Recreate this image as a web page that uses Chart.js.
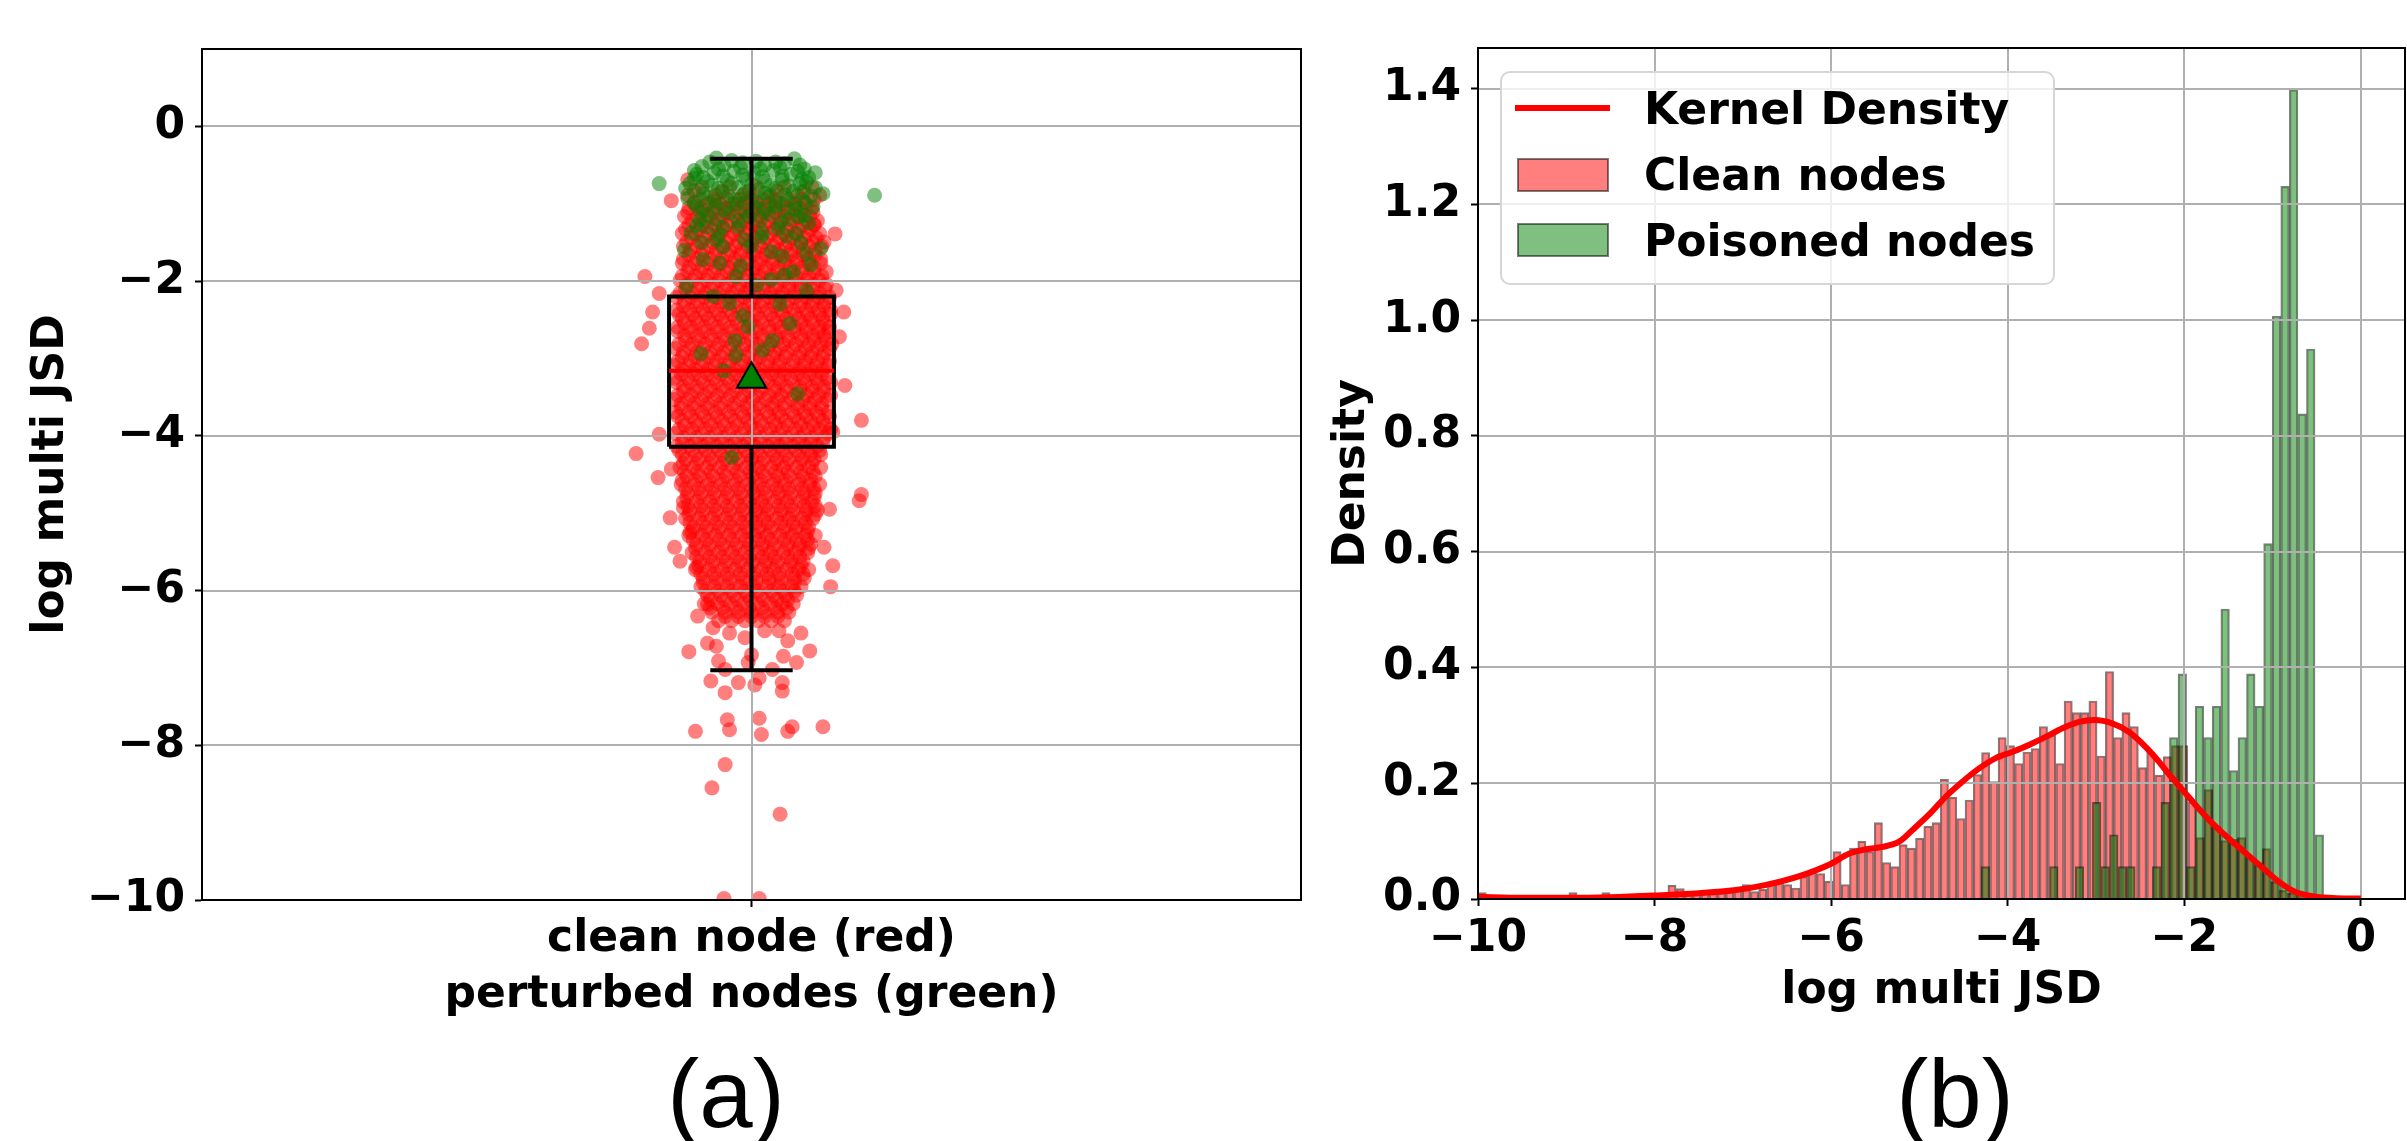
<!DOCTYPE html>
<html>
<head>
<meta charset="utf-8">
<script src="https://cdn.jsdelivr.net/npm/chart.js@4.4.1/dist/chart.umd.min.js"></script>
<style>
  html, body { margin: 0; padding: 0; background: #fff; overflow: hidden; }
  #wrap { position: relative; width: 2407px; height: 1141px; }
  canvas { position: absolute; top: 0; }
  #chartA { left: 0; }
  #chartB { left: 1320px; }
  .panel { position: absolute; top: 1046px; width: 240px; text-align: center;
           font: 96px 'Liberation Sans', Arial, sans-serif; line-height: 96px; color: #000; }
</style>
</head>
<body>
<div id="wrap">
  <canvas id="chartA" width="1320" height="1141"></canvas>
  <canvas id="chartB" width="1087" height="1141"></canvas>
  <div class="panel" style="left:606px">(a)</div>
  <div class="panel" style="left:1835px">(b)</div>
</div>
<script>
// ---------- panel (a) data ----------
const categoryTicks = [0];
const categoryLabel = ['clean node (red)', 'perturbed nodes (green)'];
const yTicksA = [-10, -8, -6, -4, -2, 0];

// box plot stats: lower whisker, q1, median, q3, upper whisker
const boxStats = [-7.03, -4.14, -3.16, -2.2, -0.42];
const meanValue = -3.27;

// dense part of clean nodes: [y, x jitter in thousandths]
const cleanRows = [
  [-0.78, [-45, -20, 5, 30, 55]],
  [-0.835, [-52, -27, -2, 23, 48]],
  [-0.89, [-58, -33, -8, 17, 42, 62]],
  [-0.945, [-46, -34, -22, -11, 0, 11, 22, 34, 46, 57]],
  [-1.00, [-52, -40, -29, -17, -6, 5, 16, 27, 39, 50]],
  [-1.055, [-57, -46, -34, -23, -11, 0, 11, 22, 33, 44, 55]],
  [-1.11, [-58, -46, -35, -23, -12, 0, 11, 22, 33, 45, 56]],
  [-1.165, [-61, -49, -38, -26, -15, -3, 8, 19, 30, 42, 53]],
  [-1.22, [-54, -42, -30, -19, -7, 4, 15, 27, 38, 49, 60]],
  [-1.275, [-57, -45, -33, -22, -10, 1, 12, 24, 35, 46, 57]],
  [-1.33, [-60, -48, -36, -25, -13, -2, 9, 21, 32, 43, 54]],
  [-1.385, [-63, -51, -39, -28, -16, -5, 6, 18, 29, 40, 51, 62]],
  [-1.44, [-55, -43, -31, -20, -8, 3, 14, 26, 37, 48, 59]],
  [-1.495, [-59, -47, -35, -23, -12, 0, 11, 23, 34, 45, 56, 66]],
  [-1.55, [-62, -50, -38, -26, -15, -3, 8, 20, 31, 42, 53, 64]],
  [-1.605, [-56, -44, -32, -20, -9, 2, 14, 25, 36, 47, 58]],
  [-1.66, [-57, -45, -33, -21, -10, 2, 13, 25, 36, 47, 58]],
  [-1.715, [-62, -50, -38, -27, -15, -4, 8, 19, 30, 41, 52, 63]],
  [-1.77, [-63, -51, -39, -27, -16, -4, 7, 19, 30, 41, 52, 63]],
  [-1.825, [-57, -45, -33, -21, -10, 2, 13, 24, 35, 46, 57]],
  [-1.88, [-58, -46, -34, -22, -11, 1, 12, 24, 35, 46, 57, 68]],
  [-1.935, [-63, -51, -40, -28, -16, -4, 7, 18, 29, 40, 52, 64]],
  [-1.99, [-65, -53, -41, -29, -17, -6, 6, 17, 29, 40, 51, 62]],
  [-2.045, [-59, -47, -35, -23, -11, 0, 11, 23, 34, 45, 56, 68]],
  [-2.10, [-60, -48, -36, -24, -12, -1, 11, 22, 34, 45, 56, 67]],
  [-2.155, [-65, -54, -42, -30, -18, -6, 5, 17, 28, 39, 51, 62]],
  [-2.21, [-68, -55, -43, -31, -19, -7, 4, 16, 27, 39, 50, 61, 71]],
  [-2.265, [-61, -49, -37, -25, -13, -1, 10, 22, 33, 45, 56, 67]],
  [-2.32, [-62, -50, -38, -26, -14, -2, 9, 21, 32, 44, 55, 66]],
  [-2.375, [-68, -56, -44, -32, -20, -8, 3, 15, 27, 38, 50, 61, 72]],
  [-2.43, [-66, -54, -42, -30, -18, -6, 5, 17, 28, 40, 51, 62, 72]],
  [-2.485, [-63, -51, -39, -27, -15, -3, 8, 20, 32, 43, 54, 65]],
  [-2.54, [-61, -49, -37, -25, -13, -1, 10, 22, 33, 45, 56, 67]],
  [-2.595, [-67, -55, -43, -31, -19, -7, 4, 16, 27, 39, 50, 62, 71]],
  [-2.65, [-67, -55, -43, -31, -19, -7, 4, 16, 27, 39, 50, 61, 70]],
  [-2.705, [-61, -49, -37, -25, -13, -1, 10, 22, 33, 45, 56, 66]],
  [-2.76, [-60, -48, -36, -24, -12, 0, 11, 23, 34, 46, 57, 68]],
  [-2.815, [-66, -54, -42, -30, -18, -6, 5, 17, 29, 40, 52, 63, 73]],
  [-2.87, [-69, -56, -44, -32, -20, -8, 3, 15, 26, 38, 49, 60, 71]],
  [-2.925, [-62, -50, -38, -26, -14, -2, 9, 21, 32, 44, 55, 66]],
  [-2.98, [-63, -51, -39, -27, -15, -3, 8, 20, 31, 43, 54, 65]],
  [-3.035, [-67, -56, -44, -32, -20, -8, 3, 15, 26, 38, 49, 60, 71]],
  [-3.09, [-70, -57, -45, -33, -21, -9, 2, 14, 25, 37, 48, 59, 70]],
  [-3.145, [-63, -51, -39, -27, -15, -3, 8, 20, 31, 43, 54, 65]],
  [-3.20, [-64, -52, -40, -28, -16, -4, 7, 19, 30, 42, 53, 64]],
  [-3.255, [-70, -58, -46, -34, -22, -10, 1, 13, 25, 36, 47, 59, 69]],
  [-3.31, [-68, -56, -44, -32, -20, -8, 3, 15, 26, 38, 49, 60, 72]],
  [-3.365, [-62, -50, -38, -26, -14, -2, 9, 21, 32, 44, 55, 66]],
  [-3.42, [-62, -50, -38, -26, -14, -2, 9, 21, 32, 44, 55, 66]],
  [-3.475, [-67, -55, -43, -31, -19, -7, 4, 16, 27, 39, 50, 61, 72]],
  [-3.53, [-70, -58, -46, -34, -22, -10, 1, 13, 24, 36, 47, 58, 69]],
  [-3.585, [-64, -52, -40, -28, -16, -4, 7, 19, 30, 42, 53, 64]],
  [-3.64, [-64, -52, -40, -28, -16, -4, 7, 19, 30, 42, 53, 64]],
  [-3.695, [-69, -57, -45, -33, -21, -9, 2, 14, 25, 37, 48, 59, 70]],
  [-3.75, [-67, -55, -43, -31, -19, -7, 4, 16, 27, 39, 50, 61, 71]],
  [-3.805, [-63, -51, -39, -27, -15, -3, 8, 20, 31, 43, 54, 65]],
  [-3.86, [-61, -49, -37, -25, -13, -1, 10, 22, 33, 45, 56, 67]],
  [-3.915, [-66, -54, -42, -30, -18, -6, 5, 17, 28, 40, 51, 62, 72]],
  [-3.97, [-69, -57, -45, -33, -21, -9, 2, 14, 25, 37, 48, 59, 70]],
  [-4.025, [-62, -50, -38, -26, -14, -2, 9, 21, 32, 44, 55, 66]],
  [-4.08, [-63, -51, -39, -27, -15, -3, 8, 20, 31, 43, 54, 65]],
  [-4.135, [-68, -56, -44, -32, -20, -8, 3, 15, 26, 38, 49, 60]],
  [-4.19, [-66, -54, -42, -30, -18, -6, 5, 17, 28, 40, 51, 62]],
  [-4.245, [-63, -51, -39, -27, -15, -3, 8, 20, 31, 43, 54, 63]],
  [-4.30, [-60, -48, -36, -24, -12, 0, 11, 23, 34, 46, 57]],
  [-4.355, [-62, -50, -38, -26, -14, -2, 9, 21, 32, 44, 55]],
  [-4.41, [-65, -53, -41, -29, -17, -5, 6, 18, 29, 41, 52, 63]],
  [-4.465, [-61, -49, -37, -25, -13, -1, 10, 22, 33, 45, 56]],
  [-4.52, [-59, -47, -35, -23, -11, 1, 12, 24, 35, 47, 58]],
  [-4.575, [-63, -51, -39, -27, -15, -3, 8, 20, 31, 43, 54]],
  [-4.63, [-64, -52, -40, -28, -16, -4, 7, 19, 30, 42, 53, 62]],
  [-4.685, [-60, -48, -36, -24, -12, 0, 11, 23, 34, 46, 57]],
  [-4.74, [-58, -46, -34, -22, -10, 2, 13, 25, 36, 48, 58]],
  [-4.795, [-59, -47, -35, -23, -11, 1, 12, 24, 35, 47, 57]],
  [-4.85, [-62, -50, -38, -26, -14, -2, 9, 21, 32, 44, 55]],
  [-4.905, [-58, -46, -34, -22, -10, 2, 13, 25, 36, 48, 58]],
  [-4.96, [-56, -44, -32, -20, -8, 4, 15, 27, 38, 50, 60]],
  [-5.015, [-57, -45, -33, -21, -9, 3, 14, 26, 37, 49, 58]],
  [-5.07, [-60, -48, -36, -24, -12, 0, 11, 23, 34, 46, 56]],
  [-5.125, [-56, -44, -32, -20, -8, 4, 15, 27, 38, 49]],
  [-5.18, [-53, -41, -29, -17, -5, 7, 18, 30, 41, 52]],
  [-5.235, [-54, -42, -30, -18, -6, 6, 17, 29, 40, 51]],
  [-5.29, [-57, -45, -33, -21, -9, 3, 14, 26, 37, 49, 58]],
  [-5.345, [-53, -41, -29, -17, -5, 7, 18, 30, 41, 51]],
  [-5.40, [-50, -38, -26, -14, -2, 10, 21, 33, 44, 54]],
  [-5.455, [-51, -39, -27, -15, -3, 9, 20, 32, 43, 52]],
  [-5.51, [-54, -42, -30, -18, -6, 6, 17, 29, 40, 51]],
  [-5.565, [-50, -38, -26, -14, -2, 10, 21, 33, 44]],
  [-5.62, [-47, -35, -23, -11, 1, 13, 24, 36, 47]],
  [-5.675, [-48, -36, -24, -12, 0, 12, 23, 35, 45]],
  [-5.73, [-51, -39, -27, -15, -3, 9, 20, 32, 43, 52]],
  [-5.785, [-46, -34, -22, -10, 2, 14, 25, 37, 47]],
  [-5.84, [-44, -32, -20, -8, 4, 16, 27, 39, 48]],
  [-5.895, [-44, -32, -20, -8, 4, 16, 27, 39]],
  [-5.95, [-46, -34, -22, -10, 2, 14, 25, 37, 45]],
  [-6.005, [-42, -30, -18, -6, 6, 18, 29, 39]],
  [-6.06, [-40, -28, -16, -4, 8, 20, 31, 41]],
  [-6.115, [-37, -25, -13, -1, 11, 23, 33]],
  [-6.17, [-43, -31, -19, -7, 5, 17, 28, 38]],
  [-6.225, [-38, -26, -14, -2, 10, 22, 32]],
  [-6.28, [-36, -24, -12, 0, 12, 24, 34]],
  [-6.335, [-24, -12, 0, 12, 24]],
  [-6.39, [-30, -18, -6, 6, 18, 30]]
];

// scattered clean nodes outside the dense part: [x, y]
const cleanOutliers = [
  [-0.073, -0.96], [-0.058, -0.69], [0.057, -1.27], [0.076, -1.39], [-0.097, -1.94],
  [-0.084, -2.16], [-0.09, -2.4], [-0.093, -2.61], [-0.1, -2.81], [0.077, -2.12],
  [0.084, -2.4], [0.08, -2.72], [0.085, -3.35], [0.1, -3.8], [-0.105, -4.23],
  [-0.085, -4.54], [-0.084, -3.98], [-0.073, -4.43], [0.1, -4.76], [0.074, -3.95],
  [-0.074, -5.06], [-0.062, -4.93], [-0.056, -5.25], [-0.07, -5.44], [-0.065, -5.62],
  [-0.05, -5.7], [0.066, -5.44], [0.074, -5.68], [0.072, -5.95], [0.071, -4.95],
  [0.098, -4.84], [-0.04, -6.18], [-0.049, -6.33], [-0.035, -6.48], [-0.04, -6.68],
  [-0.057, -6.79], [-0.032, -6.72], [-0.02, -6.55], [-0.006, -6.61], [0.012, -6.52],
  [0.025, -6.52], [0.033, -6.65], [0.045, -6.55], [0.053, -6.78], [0.041, -6.93],
  [0.029, -6.85], [0.019, -7.02], [0.0, -6.83], [-0.003, -6.93], [-0.024, -7.02],
  [-0.03, -6.91], [-0.037, -7.17], [-0.012, -7.19], [0.003, -7.22], [0.007, -7.13],
  [0.028, -7.19], [0.028, -7.3], [-0.024, -7.32], [-0.022, -7.67], [-0.02, -7.8],
  [-0.051, -7.82], [0.007, -7.65], [0.009, -7.86], [0.033, -7.82], [0.037, -7.76],
  [0.065, -7.76], [-0.024, -8.25], [-0.036, -8.55], [0.026, -8.89], [-0.025, -9.98],
  [0.007, -9.98]
];

// perturbed (poisoned) nodes: [x, y]
const poisonedPoints = [
  [-0.032, -0.41], [0.039, -0.42], [-0.084, -0.74], [0.112, -0.89], [0.065, -0.87],
  [-0.052, -0.67], [-0.061, -1.6], [0.063, -1.58], [0.054, -1.79], [0.028, -1.68],
  [0.018, -1.98], [0.03, -1.92], [-0.055, -1.38], [-0.047, -1.21], [-0.029, -1.77],
  [-0.014, -1.94], [-0.003, -2.59], [-0.015, -2.77], [0.019, -2.77], [0.01, -2.89],
  [-0.014, -2.96], [-0.046, -2.94], [-0.025, -3.16], [0.042, -3.46], [-0.018, -4.28],
  [0.044, -1.17], [0.041, -1.38], [0.045, -1.51], [0.009, -1.43], [-0.006, -1.47],
  [-0.032, -1.47], [-0.041, -1.3], [-0.026, -1.56], [-0.059, -2.07], [-0.02, -2.29],
  [0.05, -2.12],
  [-0.045, -0.52], [-0.025, -0.5], [-0.008, -0.47], [0.012, -0.5], [0.03, -0.48], [0.048, -0.55],
  [-0.05, -0.62], [-0.034, -0.6], [-0.016, -0.58], [0.002, -0.6], [0.02, -0.57], [0.036, -0.62],
  [0.052, -0.66], [-0.056, -0.74], [-0.04, -0.71], [-0.022, -0.7], [-0.005, -0.68], [0.012, -0.71],
  [0.028, -0.69], [0.044, -0.74], [0.058, -0.79], [-0.048, -0.82], [-0.03, -0.8], [-0.012, -0.79],
  [0.006, -0.82], [0.022, -0.8], [0.038, -0.84], [0.054, -0.9], [-0.058, -0.93], [-0.04, -0.92],
  [-0.021, -0.9], [-0.003, -0.93], [0.015, -0.91], [0.032, -0.95], [0.048, -0.98], [-0.05, -1.04],
  [-0.032, -1.02], [-0.013, -1.0], [0.004, -1.05], [0.022, -1.03], [0.04, -1.07], [-0.04, -1.14],
  [-0.02, -1.12], [-0.002, -1.16], [0.016, -1.13], [0.034, -1.2], [0.052, -1.25], [-0.05, -1.28],
  [-0.012, -1.3], [0.024, -1.32], [-0.03, -1.4], [0.0, -1.55], [0.018, -1.62], [-0.044, -1.72],
  [-0.01, -1.8], [0.038, -1.88], [0.005, -2.05], [-0.035, -2.2], [0.026, -2.3], [-0.008, -2.45],
  [0.035, -2.55],
  [-0.038, -0.46], [-0.018, -0.44], [0.004, -0.45], [0.022, -0.46], [0.044, -0.5],
  [-0.052, -0.57], [-0.03, -0.55], [-0.01, -0.53], [0.008, -0.55], [0.026, -0.53], [0.042, -0.58],
  [0.058, -0.6], [-0.044, -0.66], [-0.026, -0.64], [-0.008, -0.63], [0.01, -0.65], [0.028, -0.64],
  [0.046, -0.68], [-0.06, -0.8], [-0.036, -0.76], [-0.018, -0.74], [0.0, -0.75], [0.018, -0.76],
  [0.034, -0.77], [0.05, -0.72], [-0.044, -0.87], [-0.026, -0.85], [-0.006, -0.86], [0.012, -0.86],
  [0.03, -0.88], [0.046, -0.85], [-0.052, -0.98], [-0.034, -0.97], [-0.015, -0.95], [0.004, -0.97],
  [0.022, -0.98], [0.04, -1.0], [0.056, -1.04], [-0.044, -1.09], [-0.024, -1.07], [-0.006, -1.1],
  [0.012, -1.08], [0.03, -1.1], [0.048, -1.15], [-0.032, -1.2], [-0.012, -1.22], [0.008, -1.22],
  [0.026, -1.25], [-0.026, -1.3], [0.01, -1.38], [0.032, -1.42], [-0.045, -1.5], [0.05, -1.65]
];

// ---------- panel (b) data ----------
const xTicksB = [-10, -8, -6, -4, -2, 0];
const yTicksB = [0, 0.2, 0.4, 0.6, 0.8, 1.0, 1.2, 1.4];

// clean nodes histogram: 100 bins from -10 with width 0.0935
const cleanBinStart = -10, cleanBinWidth = 0.0935;
const cleanDensity = [
  0.011, 0, 0, 0, 0, 0, 0, 0, 0, 0,
  0, 0.011, 0, 0, 0, 0.011, 0, 0, 0, 0,
  0, 0, 0, 0.024, 0.018, 0.011, 0.011, 0.011, 0.011, 0.011,
  0.018, 0.018, 0.025, 0.013, 0.017, 0.028, 0.032, 0.025, 0.019, 0.039,
  0.05, 0.044, 0.031, 0.082, 0.025, 0.088, 0.1, 0.082, 0.132, 0.063,
  0.056, 0.094, 0.088, 0.105, 0.126, 0.132, 0.207, 0.176, 0.139, 0.171,
  0.215, 0.253, 0.203, 0.279, 0.265, 0.234, 0.254, 0.26, 0.298, 0.283,
  0.234, 0.342, 0.322, 0.322, 0.342, 0.247, 0.393, 0.279, 0.322, 0.298,
  0.227, 0.254, 0.214, 0.246, 0.265, 0.265, 0.168, 0.106, 0.189, 0.125,
  0.101, 0.103, 0.106, 0.072, 0.063, 0.087, 0.03, 0.015, 0.01, 0.01
];

// poisoned nodes histogram: 40 bins from -4.302 with width 0.097
const poisonBinStart = -4.302, poisonBinWidth = 0.097;
const poisonDensity = [
  0.056, 0, 0, 0, 0, 0, 0, 0, 0.056, 0,
  0, 0.056, 0, 0.167, 0.056, 0.111, 0.056, 0.056, 0, 0,
  0.056, 0.167, 0.279, 0.389, 0.056, 0.333, 0.279, 0.333, 0.501, 0.222,
  0.279, 0.389, 0.333, 0.614, 1.007, 1.231, 1.398, 0.838, 0.95, 0.111
];

// kernel density curve of clean nodes
const kdeX = [-10, -9.5, -9, -8.5, -8, -7.5, -7.1, -6.75, -6.35, -6.0,
  -5.8, -5.6, -5.42, -5.23, -5.08, -4.89, -4.7, -4.51, -4.32, -4.14,
  -3.95, -3.76, -3.57, -3.38, -3.19, -3.02, -2.81, -2.63, -2.5, -2.33,
  -2.17, -2.0, -1.87, -1.69, -1.5, -1.31, -1.12, -0.93, -0.74, -0.55,
  -0.37, -0.18, 0];
const kdeY = [0.004, 0.002, 0.002, 0.003, 0.006, 0.01, 0.015, 0.024, 0.04, 0.061,
  0.078, 0.086, 0.09, 0.099, 0.119, 0.146, 0.177, 0.203, 0.226, 0.243,
  0.254, 0.266, 0.28, 0.295, 0.306, 0.309, 0.303, 0.289, 0.272, 0.245,
  0.215, 0.185, 0.162, 0.132, 0.105, 0.08, 0.055, 0.03, 0.012, 0.005,
  0.002, 0.001, 0.001];

// ---------- styling ----------
const GRID_COLOR = '#b0b0b0';
const RED_A = 'rgba(255,0,0,0.5)';
const GREEN_A = 'rgba(0,128,0,0.5)';
const EDGE = 'rgba(0,0,0,0.5)';
const BOX_HALF = 0.075, CAP_HALF = 0.0375;

Chart.defaults.font.family = "'DejaVu Sans', sans-serif";
Chart.defaults.font.size = 44;
Chart.defaults.font.weight = 'bold';
Chart.defaults.color = '#000';
Chart.defaults.plugins.legend.display = false;
Chart.defaults.plugins.tooltip.enabled = false;

const minus = v => (v < 0 ? '\u2212' : '') + Math.abs(v);

// gridlines drawn above the scatter / bars but below lines (like matplotlib)
const gridOnTop = {
  id: 'gridOnTop',
  afterDatasetDraw(chart, args, opts) {
    if (args.index !== opts.after) return;
    const {ctx, chartArea: a} = chart;
    const xs = chart.scales.x, ys = chart.scales.y;
    ctx.save();
    ctx.strokeStyle = GRID_COLOR;
    ctx.lineWidth = 2;
    ctx.beginPath();
    xs.ticks.forEach(t => {
      const p = Math.round(xs.getPixelForValue(t.value));
      ctx.moveTo(p, a.top); ctx.lineTo(p, a.bottom);
    });
    ys.ticks.forEach(t => {
      const p = Math.round(ys.getPixelForValue(t.value));
      ctx.moveTo(a.left, p); ctx.lineTo(a.right, p);
    });
    ctx.stroke();
    ctx.restore();
  }
};

const frame = {
  id: 'frame',
  afterDatasetsDraw(chart) {
    const {ctx, chartArea: a} = chart;
    ctx.save();
    ctx.strokeStyle = '#000';
    ctx.lineWidth = 2;
    ctx.strokeRect(a.left, a.top, a.right - a.left, a.bottom - a.top);
    ctx.restore();
  }
};

const tickGrid = { drawOnChartArea: false, tickLength: 7, tickColor: '#000', tickWidth: 2 };
const axisBorder = { color: '#000', width: 2 };

// ---------- panel (a) ----------
const cleanPoints = [];
cleanRows.forEach(([y, xs]) => xs.forEach(x => cleanPoints.push({x: x / 1000, y: y})));
cleanOutliers.forEach(([x, y]) => cleanPoints.push({x, y}));

const [whisLo, q1, median, q3, whisHi] = boxStats;
const GAP = {x: 0, y: null};
const boxPath = [
  {x: -BOX_HALF, y: q1}, {x: BOX_HALF, y: q1}, {x: BOX_HALF, y: q3}, {x: -BOX_HALF, y: q3}, {x: -BOX_HALF, y: q1}, GAP,
  {x: 0, y: q3}, {x: 0, y: whisHi}, GAP,
  {x: 0, y: q1}, {x: 0, y: whisLo}, GAP,
  {x: -CAP_HALF, y: whisHi}, {x: CAP_HALF, y: whisHi}, GAP,
  {x: -CAP_HALF, y: whisLo}, {x: CAP_HALF, y: whisLo}
];

new Chart(document.getElementById('chartA'), {
  type: 'scatter',
  data: {
    datasets: [
      { label: 'mean', data: [{x: 0, y: meanValue}], pointStyle: 'triangle', pointRadius: 17,
        backgroundColor: '#008000', borderColor: '#000', borderWidth: 2 },
      { type: 'line', label: 'median', data: [{x: -BOX_HALF, y: median}, {x: BOX_HALF, y: median}],
        borderColor: '#ff0000', borderWidth: 4, pointRadius: 0, borderCapStyle: 'butt' },
      { type: 'line', label: 'box', data: boxPath, borderColor: '#000', borderWidth: 4, pointRadius: 0,
        spanGaps: false, borderCapStyle: 'butt', borderJoinStyle: 'miter', tension: 0 },
      { label: 'perturbed nodes', data: poisonedPoints.map(([x, y]) => ({x, y})),
        backgroundColor: GREEN_A, borderWidth: 0, pointRadius: 7.5 },
      { label: 'clean nodes', data: cleanPoints, backgroundColor: RED_A, borderWidth: 0, pointRadius: 7.5 }
    ]
  },
  options: {
    responsive: false, animation: false, events: [],
    layout: { padding: { top: 49, right: 18, left: 0, bottom: 0 } },
    plugins: { gridOnTop: { after: 3 } },
    scales: {
      x: {
        type: 'linear', min: -0.5, max: 0.5,
        afterBuildTicks: s => { s.ticks = categoryTicks.map(v => ({value: v})); },
        afterFit: s => { s.height = 241; },
        ticks: { callback: () => categoryLabel, padding: 5, maxRotation: 0, autoSkip: false,
                 font: { lineHeight: 1.27 } },
        grid: tickGrid, border: axisBorder
      },
      y: {
        min: -10, max: 1,
        afterBuildTicks: s => { s.ticks = yTicksA.map(v => ({value: v})); },
        afterFit: s => { s.width = 202; },
        ticks: { callback: v => minus(v), padding: 10, autoSkip: false },
        grid: tickGrid, border: axisBorder,
        title: { display: true, text: 'log multi JSD', padding: { top: 25, bottom: 0 } }
      }
    }
  },
  plugins: [gridOnTop, frame]
});

// ---------- panel (b) ----------
const legendBox = {
  id: 'legendBox',
  afterDraw(chart) {
    const {ctx, chartArea: a} = chart;
    const ds = chart.data.datasets;
    const bx = a.left + 23, by = a.top + 24, bw = 553, bh = 212;
    ctx.save();
    ctx.beginPath();
    ctx.roundRect(bx, by, bw, bh, 9);
    ctx.fillStyle = 'rgba(255,255,255,0.8)';
    ctx.fill();
    ctx.strokeStyle = '#d6d6d6';
    ctx.lineWidth = 2;
    ctx.stroke();

    ctx.strokeStyle = ds[0].borderColor;
    ctx.lineWidth = 6;
    ctx.beginPath();
    ctx.moveTo(bx + 14, by + 36); ctx.lineTo(bx + 109, by + 36);
    ctx.stroke();

    [[ds[2], 87], [ds[1], 152]].forEach(([d, top]) => {
      ctx.fillStyle = d.backgroundColor;
      ctx.fillRect(bx + 17, by + top, 90, 32);
      ctx.strokeStyle = EDGE;
      ctx.lineWidth = 2;
      ctx.strokeRect(bx + 17, by + top, 90, 32);
    });

    ctx.fillStyle = '#000';
    ctx.font = "bold 44px 'DejaVu Sans'";
    ctx.textBaseline = 'alphabetic';
    ctx.textAlign = 'left';
    ctx.fillText(ds[0].label, bx + 143, by + 52);
    ctx.fillText(ds[2].label, bx + 143, by + 118);
    ctx.fillText(ds[1].label, bx + 143, by + 184);
    ctx.restore();
  }
};

new Chart(document.getElementById('chartB'), {
  type: 'bar',
  data: {
    datasets: [
      { type: 'line', label: 'Kernel Density', data: kdeX.map((x, i) => ({x, y: kdeY[i]})),
        borderColor: '#ff0000', borderWidth: 6, pointRadius: 0, cubicInterpolationMode: 'monotone',
        xAxisID: 'x' },
      { label: 'Poisoned nodes', xAxisID: 'x2',
        data: poisonDensity.map((h, i) => ({x: poisonBinStart + (i + 0.5) * poisonBinWidth, y: h})),
        backgroundColor: GREEN_A, borderColor: EDGE, borderWidth: 1.5,
        barPercentage: 1, categoryPercentage: 1, grouped: false },
      { label: 'Clean nodes', xAxisID: 'x',
        data: cleanDensity.map((h, i) => ({x: cleanBinStart + (i + 0.5) * cleanBinWidth, y: h})),
        backgroundColor: RED_A, borderColor: EDGE, borderWidth: 1.5,
        barPercentage: 1, categoryPercentage: 1, grouped: false }
    ]
  },
  options: {
    responsive: false, animation: false, events: [],
    layout: { padding: { top: 48, right: 2, left: 0, bottom: 0 } },
    plugins: { gridOnTop: { after: 1 } },
    scales: {
      x: {
        type: 'linear', min: -10, max: 0.5, offset: false,
        afterBuildTicks: s => { s.ticks = xTicksB.map(v => ({value: v})); },
        afterFit: s => { s.height = 242; },
        ticks: { callback: v => minus(v), padding: 7, maxRotation: 0, autoSkip: false },
        grid: Object.assign({ offset: false }, tickGrid), border: axisBorder,
        title: { display: true, text: 'log multi JSD', padding: { top: 0, bottom: 123 } }
      },
      x2: {
        type: 'linear', min: -10, max: 0.5, offset: false, display: false,
        grid: { offset: false }
      },
      y: {
        min: 0, max: 1.47,
        afterBuildTicks: s => { s.ticks = yTicksB.map(v => ({value: v})); },
        afterFit: s => { s.width = 158; },
        ticks: { callback: v => v.toFixed(1), padding: 10, autoSkip: false },
        grid: tickGrid, border: axisBorder,
        title: { display: true, text: 'Density', padding: { top: 6, bottom: 0 } }
      }
    }
  },
  plugins: [gridOnTop, frame, legendBox]
});
</script>
</body>
</html>
